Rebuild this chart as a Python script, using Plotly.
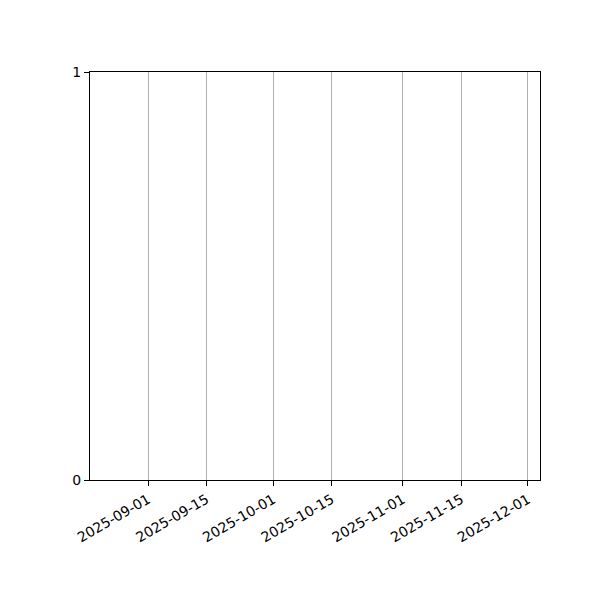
import plotly.graph_objects as go

# Chart data (the reference chart shows no plotted series)
x_dates = []
y_values = []
x_tick_values = ["2025-09-01", "2025-09-15", "2025-10-01", "2025-10-15",
                 "2025-11-01", "2025-11-15", "2025-12-01"]
y_tick_values = [0, 1]
x_range = ["2025-08-18 02:40", "2025-12-03 21:00"]
y_range = [0, 1]

fig = go.Figure()
fig.add_trace(go.Scatter(x=x_dates, y=y_values, mode="lines", showlegend=False))

font = dict(family="DejaVu Sans", size=14, color="black")

fig.update_layout(
    width=600, height=600,
    margin=dict(l=82, r=68, t=64, b=128, pad=0),
    paper_bgcolor="white", plot_bgcolor="white",
    font=font,
    showlegend=False,
)
fig.update_xaxes(
    type="date", range=x_range,
    tickmode="array", tickvals=x_tick_values, ticktext=x_tick_values,
    tickangle=-30,
    showgrid=True, gridcolor="#b0b0b0", gridwidth=1,
    showline=True, linecolor="black", linewidth=1.2, mirror=True,
    ticks="outside", ticklen=5, tickcolor="black", tickwidth=1.2,
    zeroline=False, tickfont=font,
)
fig.update_yaxes(
    range=y_range, tickmode="array", tickvals=y_tick_values,
    showgrid=False,
    showline=True, linecolor="black", linewidth=1.2, mirror=True,
    ticks="outside", ticklen=5, tickcolor="black", tickwidth=1.2,
    zeroline=False, tickfont=font,
)

fig.write_html("out.html")
